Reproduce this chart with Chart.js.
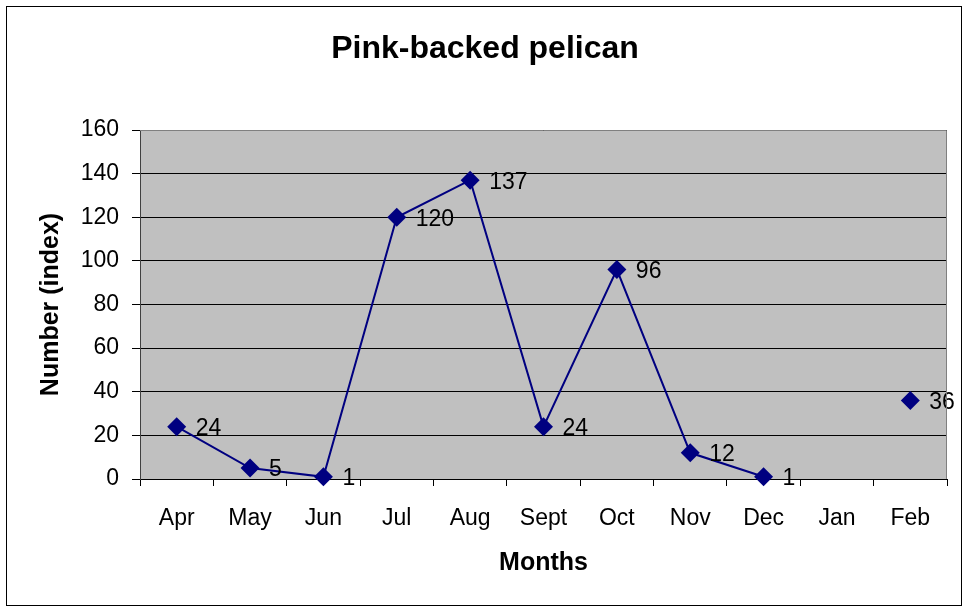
<!DOCTYPE html>
<html>
<head>
<meta charset="utf-8">
<script src="https://cdn.jsdelivr.net/npm/chart.js@4/dist/chart.umd.min.js"></script>
<style>
  html, body { margin: 0; padding: 0; background: #ffffff; }
  #wrap { width: 965px; height: 608px; }
</style>
</head>
<body>
<div id="wrap"><canvas id="c" width="965" height="608"></canvas></div>
<script>
// Monthly counts of pink-backed pelican
const chartTitle = 'Pink-backed pelican';
const months = ['Apr', 'May', 'Jun', 'Jul', 'Aug', 'Sept', 'Oct', 'Nov', 'Dec', 'Jan', 'Feb'];
const counts = [24, 5, 1, 120, 137, 24, 96, 12, 1, null, 36];
const yTicks = [0, 20, 40, 60, 80, 100, 120, 140, 160];
const xAxisTitle = 'Months';
const yAxisTitle = 'Number (index)';

const FONT = '"Liberation Sans", Arial, sans-serif';
const NAVY = '#000080';

// Frame, grey plot background and chart title
const framePlugin = {
  id: 'frame',
  beforeDraw(chart) {
    const { ctx, chartArea: a } = chart;
    ctx.save();
    ctx.fillStyle = '#ffffff';
    ctx.fillRect(0, 0, chart.width, chart.height);
    ctx.strokeStyle = '#000000';
    ctx.lineWidth = 1;
    ctx.strokeRect(6.5, 6.5, 955, 599);
    ctx.fillStyle = '#c0c0c0';
    ctx.fillRect(a.left, a.top, a.right - a.left, a.bottom - a.top);
    ctx.fillStyle = '#000000';
    ctx.font = 'bold 32px ' + FONT;
    ctx.textAlign = 'center';
    ctx.textBaseline = 'alphabetic';
    ctx.fillText(chartTitle, 485, 58);
    ctx.restore();
  },
  afterDraw(chart) {
    const { ctx, chartArea: a } = chart;
    ctx.save();
    ctx.strokeStyle = '#808080';
    ctx.lineWidth = 1;
    ctx.beginPath();
    ctx.moveTo(a.left, a.top + 0.5);
    ctx.lineTo(a.right - 0.5, a.top + 0.5);
    ctx.lineTo(a.right - 0.5, a.bottom);
    ctx.stroke();
    ctx.restore();
  }
};

// Value labels to the right of each marker
const valueLabels = {
  id: 'valueLabels',
  afterDatasetsDraw(chart) {
    const { ctx } = chart;
    const meta = chart.getDatasetMeta(0);
    const data = chart.data.datasets[0].data;
    ctx.save();
    ctx.fillStyle = '#000000';
    ctx.font = '23px ' + FONT;
    ctx.textAlign = 'left';
    ctx.textBaseline = 'middle';
    meta.data.forEach((pt, i) => {
      const v = data[i];
      if (v === null || v === undefined) return;
      ctx.fillText(String(v), pt.x + 19, pt.y + 2);
    });
    ctx.restore();
  }
};

new Chart(document.getElementById('c'), {
  type: 'line',
  data: {
    labels: months,
    datasets: [{
      data: counts,
      borderColor: NAVY,
      backgroundColor: NAVY,
      borderWidth: 2,
      pointStyle: 'rectRot',
      pointRadius: 9.5,
      pointHoverRadius: 9.5,
      pointBackgroundColor: NAVY,
      pointBorderColor: NAVY,
      pointBorderWidth: 0,
      tension: 0,
      spanGaps: false,
      clip: false
    }]
  },
  options: {
    responsive: false,
    animation: false,
    events: [],
    layout: { padding: { left: 6, right: 18, top: 130, bottom: 2 } },
    plugins: {
      legend: { display: false },
      title: { display: false },
      tooltip: { enabled: false }
    },
    scales: {
      x: {
        type: 'category',
        offset: true,
        grid: {
          offset: true,
          drawOnChartArea: false,
          drawTicks: true,
          tickLength: 7,
          color: '#000000'
        },
        border: { display: true, color: '#000000', width: 1 },
        ticks: {
          color: '#000000',
          font: { family: FONT, size: 23 },
          padding: 19,
          maxRotation: 0,
          autoSkip: false
        },
        title: {
          display: true,
          text: xAxisTitle,
          color: '#000000',
          font: { family: FONT, size: 25, weight: 'bold' },
          padding: { top: 0, bottom: 28 }
        },
        afterFit(scale) { scale.height = 127; }
      },
      y: {
        min: 0,
        max: 160,
        afterBuildTicks(scale) { scale.ticks = yTicks.map(v => ({ value: v })); },
        grid: {
          color: '#000000',
          lineWidth: 1,
          drawTicks: true,
          tickLength: 8
        },
        border: { display: true, color: '#404040', width: 1 },
        ticks: {
          color: '#000000',
          font: { family: FONT, size: 23 },
          padding: 13
        },
        title: {
          display: true,
          text: yAxisTitle,
          color: '#000000',
          font: { family: FONT, size: 25, weight: 'bold' },
          padding: { top: 30, bottom: 0 }
        },
        afterFit(scale) { scale.width = 134; }
      }
    }
  },
  plugins: [framePlugin, valueLabels]
});
</script>
</body>
</html>
